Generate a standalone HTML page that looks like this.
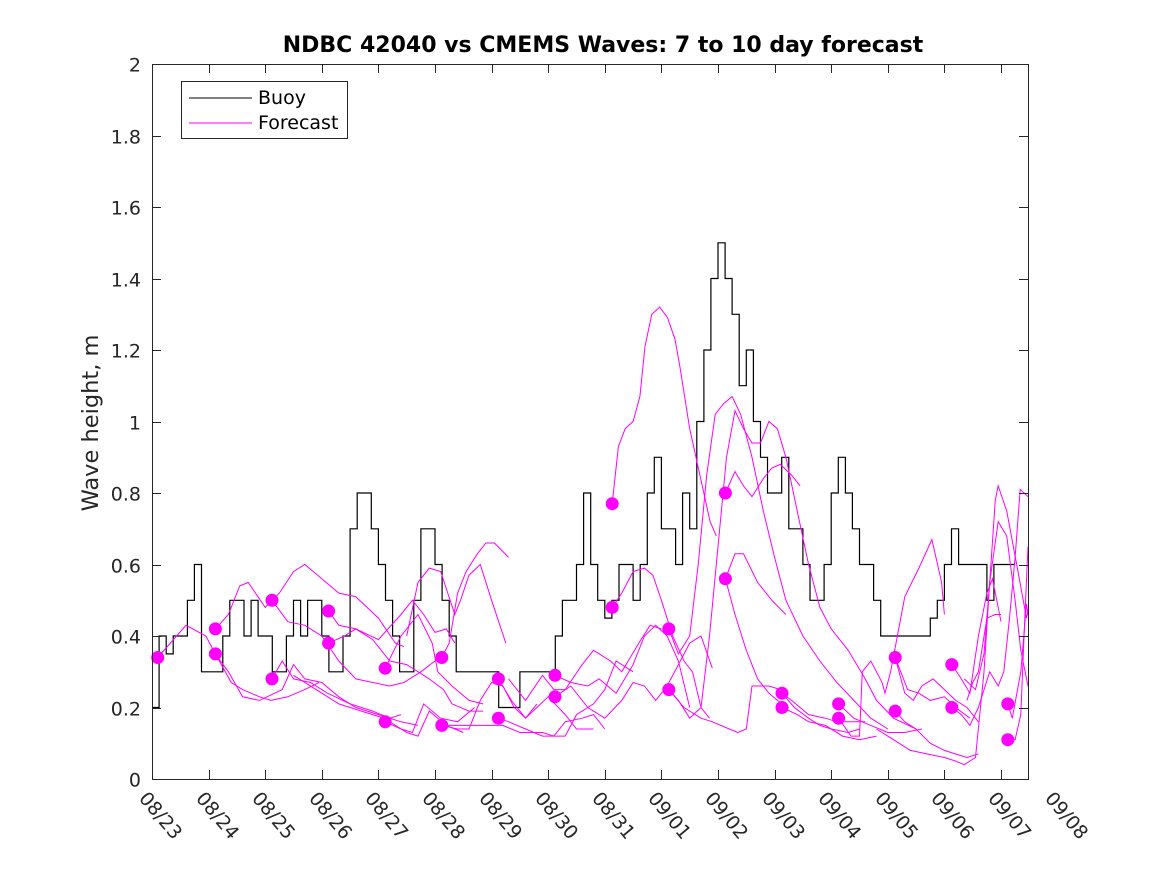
<!DOCTYPE html>
<html><head><meta charset="utf-8"><style>
html,body{margin:0;padding:0;background:#fff;}
svg{display:block;font-family:"DejaVu Sans","Liberation Sans",sans-serif;}
</style></head><body>
<svg id="chart" width="1167" height="875" viewBox="0 0 1167 875">
<rect x="0" y="0" width="1167" height="875" fill="#fff"/>
<text x="603" y="52" text-anchor="middle" font-size="22" font-weight="bold" fill="#000">NDBC 42040 vs CMEMS Waves: 7 to 10 day forecast</text>
<text transform="translate(98,423) rotate(-90)" text-anchor="middle" font-size="22.5" fill="#262626">Wave height, m</text>
<g id="plot"></g>
<g id="axes"></g>
<g>
<rect x="181.5" y="81.5" width="166" height="57" fill="#fff" stroke="#262626" stroke-width="1"/>
<line x1="189" y1="98" x2="252" y2="98" stroke="#000" stroke-width="1"/>
<text x="258" y="104" font-size="19" fill="#000">Buoy</text>
<line x1="189" y1="123" x2="252" y2="123" stroke="#ff00ff" stroke-width="1"/>
<text x="258" y="129" font-size="19" fill="#000">Forecast</text>
</g>
</svg>
<script>
const xTickLabels = ["08/23","08/24","08/25","08/26","08/27","08/28","08/29","08/30","08/31","09/01","09/02","09/03","09/04","09/05","09/06","09/07","09/08"];
const yTickLabels = ["0","0.2","0.4","0.6","0.8","1","1.2","1.4","1.6","1.8","2"];
const yTickValues = [0,0.2,0.4,0.6,0.8,1.0,1.2,1.4,1.6,1.8,2.0];
const buoyStep = 0.125;
const buoyValues = [
.2,.4,.35,.4,.4,.5,.6,.3,
.3,.3,.4,.5,.5,.4,.5,.4,
.4,.3,.3,.4,.5,.4,.5,.5,
.4,.3,.3,.4,.7,.8,.8,.7,
.6,.5,.4,.3,.3,.5,.7,.7,
.6,.5,.4,.3,.3,.3,.3,.3,
.3,.2,.2,.2,.3,.3,.3,.3,
.3,.4,.5,.5,.6,.8,.6,.5,
.45,.5,.6,.6,.5,.6,.8,.9,
.7,.7,.6,.8,.7,1.0,1.2,1.4,
1.5,1.4,1.3,1.1,1.2,1.0,.9,.8,
.8,.9,.7,.7,.6,.5,.5,.6,
.8,.9,.8,.7,.6,.6,.5,.4,
.4,.4,.4,.4,.4,.4,.45,.5,
.6,.7,.6,.6,.6,.6,.5,.6,
.6,.6];
const dotTimes = [0.1,1.12,1.12,2.12,2.12,3.12,3.12,4.12,4.12,5.12,5.12,6.12,6.12,7.12,7.12,8.13,8.13,9.13,9.13,10.13,10.13,11.13,11.13,12.13,12.13,13.13,13.13,14.13,14.13,15.12,15.12];
const dotValues = [.34,.42,.35,.50,.28,.47,.38,.31,.16,.34,.15,.28,.17,.29,.23,.77,.48,.42,.25,.80,.56,.24,.20,.21,.17,.34,.19,.32,.20,.21,.11];
const forecastLines = [
[[0.1,.34],[0.6,.43],[0.95,.40],[1.12,.35]],
[[1.12,.35],[1.4,.27],[1.6,.25],[1.9,.23],[2.1,.22],[2.4,.23],[2.7,.25],[2.95,.27]],
[[1.12,.35],[1.35,.30],[1.6,.23],[1.9,.22],[2.3,.25],[2.5,.32],[2.7,.28],[3.0,.27],[3.3,.23],[3.6,.20],[4.0,.18],[4.4,.16],[4.7,.15]],
[[1.12,.42],[1.35,.46],[1.55,.54],[1.7,.55],[2.0,.48],[2.25,.52],[2.5,.58],[2.7,.60],[3.0,.56],[3.3,.52],[3.6,.51],[4.0,.45],[4.3,.38],[4.45,.37]],
[[2.12,.50],[2.4,.44],[2.7,.43],[3.0,.40],[3.3,.33],[3.6,.28],[3.9,.27],[4.2,.26],[4.45,.27],[4.75,.30],[5.0,.33]],
[[2.12,.28],[2.3,.33],[2.5,.28],[2.8,.27],[3.1,.24],[3.5,.21],[3.9,.19],[4.2,.17],[4.4,.18]],
[[2.5,.29],[2.9,.25],[3.3,.21],[3.7,.19],[4.1,.17],[4.5,.13],[4.7,.12],[4.9,.19],[5.2,.15],[5.5,.13]],
[[3.12,.47],[3.3,.43],[3.6,.42],[4.0,.39],[4.4,.46],[4.6,.50],[4.8,.46],[5.0,.41],[5.2,.42],[5.35,.38]],
[[3.12,.38],[3.4,.40],[3.6,.42],[3.9,.39],[4.2,.33],[4.5,.32],[4.9,.28],[5.15,.25],[5.3,.21],[5.6,.19],[5.85,.19]],
[[4.12,.31],[4.4,.40],[4.7,.46],[4.95,.38],[5.05,.30],[5.3,.26],[5.6,.22],[5.85,.21]],
[[4.12,.16],[4.4,.14],[4.6,.13],[4.8,.21],[5.1,.17],[5.4,.16],[5.7,.20]],
[[5.12,.34],[5.25,.38],[5.4,.52],[5.55,.58],[5.75,.63],[5.9,.66],[6.05,.66],[6.3,.62]],
[[4.5,.40],[4.7,.55],[4.9,.59],[5.1,.58],[5.35,.46],[5.45,.50],[5.6,.57],[5.8,.60],[6.0,.50],[6.25,.38]],
[[5.12,.15],[5.5,.15],[5.9,.15],[6.2,.15],[6.5,.13],[6.9,.13],[7.1,.12],[7.3,.16],[7.6,.17],[7.8,.18],[8.0,.14]],
[[5.12,.15],[5.4,.14],[5.6,.14],[5.8,.22],[6.0,.27],[6.2,.26],[6.4,.20],[6.6,.17],[6.8,.21]],
[[6.12,.28],[6.35,.22],[6.6,.17],[6.8,.20],[7.0,.23],[7.3,.18],[7.5,.14],[7.8,.14]],
[[6.12,.17],[6.3,.16],[6.6,.14],[6.9,.12],[7.3,.12],[7.5,.18],[7.8,.21],[8.0,.25],[8.2,.33],[8.5,.30]],
[[6.3,.28],[6.6,.22],[6.9,.29],[7.1,.25],[7.3,.25],[7.6,.32],[7.8,.36],[8.1,.33],[8.3,.30],[8.6,.38],[8.8,.43],[9.0,.42]],
[[7.12,.29],[7.4,.27],[7.7,.26],[7.9,.28],[8.2,.24],[8.5,.32],[8.7,.40],[8.9,.43],[9.1,.40],[9.3,.33],[9.5,.20]],
[[7.12,.23],[7.4,.26],[7.7,.20],[8.0,.17],[8.3,.22],[8.5,.27],[8.7,.26],[8.9,.22],[9.1,.26],[9.3,.32],[9.5,.38],[9.7,.40],[9.9,.31]],
[[8.13,.77],[8.24,.93],[8.36,.98],[8.5,1.0],[8.62,1.07],[8.71,1.21],[8.83,1.30],[8.97,1.32],[9.11,1.29],[9.24,1.23],[9.33,1.15],[9.5,.98],[9.68,.85],[9.86,.72],[9.97,.68]],
[[8.13,.48],[8.3,.52],[8.5,.58],[8.7,.59],[8.85,.57],[9.0,.50],[9.2,.40],[9.4,.33],[9.55,.30],[9.7,.20],[9.85,.17]],
[[9.13,.42],[9.3,.35],[9.5,.40],[9.65,.60],[9.8,.85],[9.95,1.02],[10.1,1.05],[10.25,1.07],[10.4,1.02],[10.6,.9],[10.8,.75],[11.0,.62],[11.2,.50],[11.5,.40],[11.8,.33],[12.1,.27],[12.4,.22],[12.7,.17],[13.0,.14]],
[[9.13,.25],[9.3,.22],[9.5,.17],[9.7,.2],[9.85,.4],[10.0,.65],[10.15,.9],[10.3,1.03],[10.45,.98],[10.6,.94],[10.75,.94],[10.9,1.0],[11.05,.98],[11.2,.90],[11.4,.75],[11.6,.60],[11.8,.48],[12.0,.42],[12.3,.36],[12.6,.28],[12.8,.22],[13.1,.17],[13.5,.14]],
[[10.13,.80],[10.3,.86],[10.45,.82],[10.6,.79],[10.8,.84],[10.95,.87],[11.1,.88],[11.3,.85],[11.45,.82]],
[[10.13,.56],[10.3,.63],[10.45,.63],[10.7,.55],[10.95,.50],[11.2,.46]],
[[10.13,.56],[10.3,.46],[10.5,.36],[10.7,.28],[10.9,.24],[11.05,.22],[11.25,.20]],
[[9.13,.25],[9.4,.20],[9.7,.17],[9.9,.16],[10.2,.14],[10.35,.13],[10.5,.14],[10.6,.26],[10.9,.26],[11.1,.25]],
[[11.13,.24],[11.35,.20],[11.6,.17],[11.8,.15],[12.0,.14],[12.3,.13],[12.5,.14]],
[[11.13,.20],[11.4,.18],[11.6,.16],[11.9,.15],[12.2,.12],[12.5,.11],[12.8,.12]],
[[11.13,.24],[11.3,.22],[11.6,.18],[11.9,.17],[12.1,.16],[12.3,.16],[12.6,.16]],
[[12.13,.21],[12.4,.17],[12.7,.15],[13.0,.13],[13.3,.13],[13.6,.14]],
[[12.13,.17],[12.35,.12],[12.5,.12],[12.55,.30],[12.7,.33],[12.9,.27],[12.95,.24],[13.05,.30],[13.3,.51],[13.55,.59],[13.78,.67],[13.95,.55],[14.0,.46]],
[[13.13,.34],[13.3,.24],[13.45,.22],[13.6,.26],[13.8,.28],[14.0,.25],[14.2,.22],[14.4,.20],[14.6,.16]],
[[13.13,.19],[13.3,.16],[13.5,.14],[13.75,.10],[14.0,.08],[14.2,.07],[14.4,.06],[14.6,.07]],
[[13.13,.34],[13.35,.25],[13.55,.24],[13.75,.22],[14.0,.23],[14.2,.20],[14.45,.17]],
[[12.8,.14],[13.1,.11],[13.4,.08],[13.7,.07],[14.0,.06],[14.2,.05],[14.35,.04],[14.55,.06],[14.7,.30],[14.8,.55],[14.9,.78],[14.95,.82],[15.1,.75],[15.3,.58],[15.45,.45],[15.48,.47]],
[[14.13,.20],[14.3,.18],[14.45,.15],[14.6,.20],[14.8,.30],[14.95,.26],[15.05,.30],[15.15,.45],[15.25,.62],[15.34,.81],[15.48,.79]],
[[15.12,.21],[15.2,.17],[15.35,.30],[15.45,.49],[15.48,.46]],
[[15.12,.11],[15.25,.11],[15.35,.18],[15.42,.45],[15.48,.65]],
[[14.35,.28],[14.55,.25],[14.7,.35],[14.8,.55],[14.95,.72],[15.1,.68],[15.25,.50],[15.35,.36],[15.48,.26]],
[[14.13,.32],[14.3,.28],[14.45,.24],[14.6,.40],[14.75,.52],[14.85,.56],[15.0,.44]],
[[14.4,.22],[14.5,.27],[14.6,.30],[14.75,.45],[14.9,.46],[15.0,.46]]
];

const X0 = 152, X1 = 1028, Y0 = 779, Y1 = 64, DAYPX = 56.6, TMAX = (X1 - X0) / DAYPX;
function xs(t){ return X0 + t * DAYPX; }
function ys(v){ return Y0 - (v / 2) * (Y0 - Y1); }
const NS = "http://www.w3.org/2000/svg";
const plot = document.getElementById('plot');
const axes = document.getElementById('axes');

let d = "";
buoyValues.forEach(function(v, i){
  const t0 = i * buoyStep, t1 = Math.min((i + 1) * buoyStep, TMAX);
  if (i === 0) d += "M" + xs(t0).toFixed(1) + "," + ys(v).toFixed(1);
  else d += "L" + xs(t0).toFixed(1) + "," + ys(v).toFixed(1);
  d += "L" + xs(t1).toFixed(1) + "," + ys(v).toFixed(1);
});
const buoy = document.createElementNS(NS, 'path');
buoy.setAttribute('d', d);
buoy.setAttribute('fill', 'none');
buoy.setAttribute('stroke', '#000');
buoy.setAttribute('stroke-width', '1.2');


plot.appendChild(buoy);

forecastLines.forEach(function(line, k){
  const p = document.createElementNS(NS, 'polyline');
  p.setAttribute('points', line.map(function(pt){ return xs(Math.min(pt[0], TMAX)).toFixed(1) + "," + ys(pt[1]).toFixed(1); }).join(" "));
  p.setAttribute('fill', 'none');
  p.setAttribute('stroke', '#ff00ff');
  p.setAttribute('stroke-width', '1');
  
  
  plot.appendChild(p);
});

dotTimes.forEach(function(t, i){
  const c = document.createElementNS(NS, 'circle');
  c.setAttribute('cx', xs(t).toFixed(1));
  c.setAttribute('cy', ys(dotValues[i]).toFixed(1));
  c.setAttribute('r', '6.5');
  c.setAttribute('fill', '#ff00ff');
  
  
  plot.appendChild(c);
});

const box = document.createElementNS(NS, 'rect');
box.setAttribute('x', X0 + 0.5); box.setAttribute('y', Y1 + 0.5);
box.setAttribute('width', X1 - X0); box.setAttribute('height', Y0 - Y1);
box.setAttribute('fill', 'none'); box.setAttribute('stroke', '#262626'); box.setAttribute('stroke-width', '1');


axes.appendChild(box);

yTickValues.forEach(function(v, i){
  const y = Math.round(ys(v)) + 0.5;
  const t1 = document.createElementNS(NS, 'path');
  t1.setAttribute('d', "M" + X0 + "," + y + "h9M" + X1 + "," + y + "h-9");
  t1.setAttribute('stroke', '#262626');
  
  
  axes.appendChild(t1);
  const tx = document.createElementNS(NS, 'text');
  tx.setAttribute('x', X0 - 11); tx.setAttribute('y', y + 7);
  tx.setAttribute('text-anchor', 'end'); tx.setAttribute('font-size', '19'); tx.setAttribute('fill', '#262626');
  
  
  tx.textContent = yTickLabels[i];
  axes.appendChild(tx);
});

xTickLabels.forEach(function(lab, i){
  const x = Math.round(xs(i)) + 0.5;
  if (x <= X1 + 1) {
    const t1 = document.createElementNS(NS, 'path');
    t1.setAttribute('d', "M" + x + "," + Y0 + "v-9M" + x + "," + Y1 + "v9");
    t1.setAttribute('stroke', '#262626');
    
    
    axes.appendChild(t1);
  }
  const tx = document.createElementNS(NS, 'text');
  tx.setAttribute('transform', 'translate(' + (x - 4) + ',790) rotate(50)');
  tx.setAttribute('font-size', '19'); tx.setAttribute('fill', '#262626');
  tx.setAttribute('dominant-baseline', 'hanging');
  
  
  tx.textContent = lab;
  axes.appendChild(tx);
});
</script>
</body></html>
